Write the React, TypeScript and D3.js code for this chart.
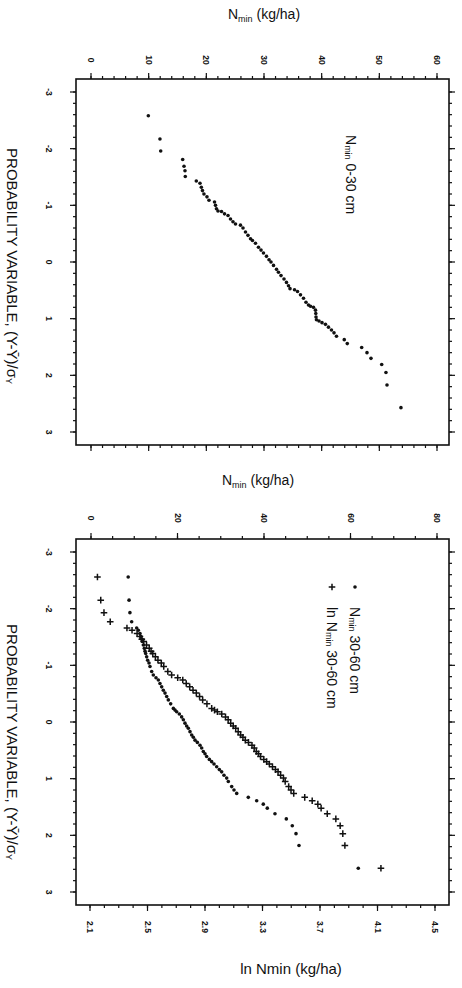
import { useEffect, useRef } from 'react';
import * as d3 from 'd3';

const W = 462;
const H = 988;
const FONT = 'Liberation Sans, Arial, Helvetica, sans-serif';
const INK = '#111';

// tick labels
const probTicks = [-3, -2, -1, 0, 1, 2, 3];
const nTicksShallow = [0, 10, 20, 30, 40, 50, 60];
const nTicksDeep = [0, 20, 40, 60, 80];
const lnTicks = [2.1, 2.5, 2.9, 3.3, 3.7, 4.1, 4.5];

// [Nmin (kg/ha), probability variable], 0-30 cm
const nmin0to30: [number, number][] = [
  [9.94, -2.58], [11.96, -2.17], [12.09, -1.96], [15.9, -1.81], [16.13, -1.69], [16.3, -1.61],
  [16.35, -1.51], [18.26, -1.43], [18.9, -1.39], [19.13, -1.32], [19.33, -1.26], [19.59, -1.2],
  [20.11, -1.15], [20.46, -1.09], [21.42, -1.06], [21.59, -1.0], [21.76, -0.94], [22.02, -0.9],
  [22.63, -0.89], [23.15, -0.85], [23.76, -0.82], [24.19, -0.76], [24.62, -0.71], [25.06, -0.67],
  [25.92, -0.65], [26.36, -0.6], [26.79, -0.53], [27.22, -0.47], [27.66, -0.41], [28.0, -0.38],
  [28.52, -0.33], [29.04, -0.26], [29.48, -0.21], [29.91, -0.16], [30.43, -0.1], [30.87, -0.04],
  [31.21, 0.0], [31.65, 0.06], [32.17, 0.13], [32.51, 0.18], [32.95, 0.24], [33.47, 0.3],
  [33.9, 0.36], [34.25, 0.42], [34.51, 0.47], [35.29, 0.49], [35.81, 0.52], [36.33, 0.58],
  [36.85, 0.64], [37.28, 0.71], [37.71, 0.76], [38.06, 0.78], [38.58, 0.8], [38.93, 0.85],
  [38.98, 0.91], [39.02, 0.97], [39.1, 1.02], [39.54, 1.04], [40.06, 1.07], [40.66, 1.1],
  [41.18, 1.15], [41.7, 1.2], [42.14, 1.25], [42.57, 1.31], [43.92, 1.37], [44.44, 1.44],
  [46.94, 1.51], [47.86, 1.6], [48.55, 1.7], [50.41, 1.81], [51.15, 1.95], [51.33, 2.17],
  [53.75, 2.57],
];

// [Nmin (kg/ha), probability variable], 30-60 cm
const nmin30to60: [number, number][] = [
  [8.6, -2.56], [8.8, -2.15], [9.0, -1.93], [9.4, -1.77], [10.56, -1.66], [10.94, -1.62],
  [11.33, -1.56], [11.56, -1.51], [11.71, -1.46], [11.87, -1.42], [12.1, -1.36], [12.33, -1.3],
  [12.49, -1.25], [12.64, -1.21], [12.87, -1.15], [13.1, -1.09], [13.41, -1.04], [13.64, -0.98],
  [14.03, -0.89], [14.41, -0.83], [15.03, -0.78], [15.57, -0.74], [15.95, -0.68], [16.34, -0.62],
  [16.72, -0.56], [17.11, -0.51], [17.5, -0.45], [17.88, -0.39], [18.42, -0.32], [19.04, -0.24],
  [19.42, -0.21], [19.81, -0.18], [20.42, -0.14], [20.96, -0.09], [21.35, -0.04], [21.73, 0.02],
  [22.12, 0.07], [22.5, 0.11], [22.89, 0.17], [23.28, 0.23], [23.66, 0.27], [24.05, 0.32],
  [24.59, 0.36], [25.2, 0.41], [25.59, 0.46], [25.97, 0.52], [26.36, 0.56], [26.74, 0.61],
  [27.36, 0.66], [27.9, 0.7], [28.44, 0.74], [29.06, 0.79], [29.67, 0.84], [30.21, 0.88],
  [30.75, 0.94], [31.37, 0.99], [31.75, 1.05], [32.53, 1.14], [33.06, 1.2], [33.69, 1.26],
  [36.37, 1.33], [38.31, 1.39], [39.84, 1.45], [40.76, 1.52], [42.54, 1.62], [45.16, 1.71],
  [46.54, 1.83], [47.4, 1.97], [48.09, 2.18], [61.8, 2.58],
];

const PLUS = 'M-3.3,0H3.3M0,-3.3V3.3';

export default function App() {
  const ref = useRef<SVGSVGElement>(null);

  useEffect(() => {
    const svg = d3.select(ref.current);
    svg.selectAll('*').remove();
    svg.append('rect').attr('width', W).attr('height', H).attr('fill', '#fff');

    const tickH = (scale: any, vals: number[], y: number, dir: number, len: number) =>
      svg.append('g').selectAll('line').data(vals).join('line')
        .attr('x1', d => scale(d)).attr('x2', d => scale(d))
        .attr('y1', y).attr('y2', y + dir * len)
        .attr('stroke', INK).attr('stroke-width', 1.2);

    const tickV = (scale: any, vals: number[], x: number, dir: number, len: number) =>
      svg.append('g').selectAll('line').data(vals).join('line')
        .attr('y1', d => scale(d)).attr('y2', d => scale(d))
        .attr('x1', x).attr('x2', x + dir * len)
        .attr('stroke', INK).attr('stroke-width', 1.2);

    // small rotated labels (rotated 90deg, read top-to-bottom)
    const rotLabels = (vals: number[], pos: (d: number) => [number, number], fmt: (d: number) => string) =>
      svg.append('g').selectAll('text').data(vals).join('text')
        .attr('transform', d => { const [x, y] = pos(d); return `translate(${x},${y}) rotate(90)`; })
        .attr('text-anchor', 'middle').attr('dominant-baseline', 'central')
        .attr('font-family', FONT).attr('font-size', 8.5).attr('font-weight', 'bold')
        .attr('fill', INK).text(d => fmt(d));

    const minorProb = d3.range(-3, 3.001, 0.2);

    const frame = (x0: number, y0: number, x1: number, y1: number) =>
      svg.append('rect').attr('x', x0).attr('y', y0).attr('width', x1 - x0).attr('height', y1 - y0)
        .attr('fill', 'none').attr('stroke', INK).attr('stroke-width', 1.6);

    const nTitle = (cx: number, baseY: number) => {
      const t = svg.append('text').attr('x', cx).attr('y', baseY).attr('text-anchor', 'middle')
        .attr('font-family', FONT).attr('font-size', 14).attr('fill', INK);
      t.append('tspan').text('N');
      t.append('tspan').attr('font-size', 9).attr('dy', 3).text('min');
      t.append('tspan').attr('dy', -3).text(' (kg/ha)');
    };

    const probTitle = (x: number, cy: number) => {
      const t = svg.append('text').attr('transform', `translate(${x},${cy}) rotate(90)`)
        .attr('text-anchor', 'middle').attr('dominant-baseline', 'central')
        .attr('font-family', FONT).attr('font-size', 15).attr('fill', INK);
      t.append('tspan').text('PROBABILITY VARIABLE, (Y-\u0232)/\u03c3');
      t.append('tspan').attr('font-size', 9).attr('dy', 4).text('Y');
    };

    // ---------- upper panel: Nmin 0-30 cm ----------
    const p1 = { x0: 76, y0: 79, x1: 449, y1: 445 };
    const xN1 = d3.scaleLinear().domain([0, 60]).range([91, 437]);
    const yP1 = d3.scaleLinear().domain([-3, 3]).range([92, 432]);
    const minorN1 = d3.range(0, 60.001, 2);

    frame(p1.x0, p1.y0, p1.x1, p1.y1);
    tickH(xN1, minorN1, p1.y0, -1, 3);
    tickH(xN1, nTicksShallow, p1.y0, -1, 6);
    tickH(xN1, minorN1, p1.y1, 1, 3);
    tickH(xN1, nTicksShallow, p1.y1, 1, 6);
    tickV(yP1, minorProb, p1.x0, -1, 3);
    tickV(yP1, probTicks, p1.x0, -1, 6);
    tickV(yP1, minorProb, p1.x1, 1, 3);
    tickV(yP1, probTicks, p1.x1, 1, 6);
    rotLabels(nTicksShallow, d => [xN1(d), 60], d => String(d));
    rotLabels(probTicks, d => [49, yP1(d)], d => String(d));

    svg.append('g').selectAll('circle').data(nmin0to30).join('circle')
      .attr('cx', d => xN1(d[0])).attr('cy', d => yP1(d[1])).attr('r', 1.8).attr('fill', INK);

    nTitle(264, 19);
    probTitle(13, 266);

    const leg1 = svg.append('text').attr('transform', 'translate(351,135) rotate(90)')
      .attr('text-anchor', 'start').attr('dominant-baseline', 'central')
      .attr('font-family', FONT).attr('font-size', 14).attr('fill', INK);
    leg1.append('tspan').text('N');
    leg1.append('tspan').attr('font-size', 9).attr('dy', 3).text('min');
    leg1.append('tspan').attr('dy', -3).text(' 0-30 cm');

    // ---------- lower panel: Nmin 30-60 cm ----------
    const p2 = { x0: 76, y0: 539, x1: 449, y1: 905 };
    const xN2 = d3.scaleLinear().domain([0, 80]).range([91, 437]);
    const xLn = d3.scaleLinear().domain([2.1, 4.5]).range([90, 435]);
    const yP2 = d3.scaleLinear().domain([-3, 3]).range([552, 892]);
    const minorN2 = d3.range(0, 80.001, 5);
    const minorLn = d3.range(2.1, 4.5001, 0.1);

    frame(p2.x0, p2.y0, p2.x1, p2.y1);
    tickH(xN2, minorN2, p2.y0, -1, 3);
    tickH(xN2, nTicksDeep, p2.y0, -1, 6);
    tickH(xLn, minorLn, p2.y1, 1, 3);
    tickH(xLn, lnTicks, p2.y1, 1, 6);
    tickV(yP2, minorProb, p2.x0, -1, 3);
    tickV(yP2, probTicks, p2.x0, -1, 6);
    tickV(yP2, minorProb, p2.x1, 1, 3);
    tickV(yP2, probTicks, p2.x1, 1, 6);
    rotLabels(nTicksDeep, d => [xN2(d), 518], d => String(d));
    rotLabels(lnTicks, d => [xLn(d), 927], d => d.toFixed(1));
    rotLabels(probTicks, d => [49, yP2(d)], d => String(d));

    // Nmin on the top (linear) axis
    svg.append('g').selectAll('circle').data(nmin30to60).join('circle')
      .attr('cx', d => xN2(d[0])).attr('cy', d => yP2(d[1])).attr('r', 1.8).attr('fill', INK);
    // ln Nmin on the bottom axis
    svg.append('g').selectAll('path').data(nmin30to60).join('path')
      .attr('transform', d => `translate(${xLn(Math.log(d[0]))},${yP2(d[1])})`)
      .attr('d', PLUS).attr('stroke', INK).attr('stroke-width', 1.5).attr('fill', 'none');

    nTitle(258, 485);
    probTitle(13, 742);

    const lt = svg.append('text').attr('x', 291).attr('y', 974).attr('text-anchor', 'middle')
      .attr('font-family', FONT).attr('font-size', 15).attr('fill', INK);
    lt.text('ln Nmin (kg/ha)');

    // legend
    svg.append('circle').attr('cx', 355).attr('cy', 587).attr('r', 1.8).attr('fill', INK);
    svg.append('path').attr('transform', 'translate(332,587)').attr('d', PLUS)
      .attr('stroke', INK).attr('stroke-width', 1.5);
    const legA = svg.append('text').attr('transform', 'translate(355,607) rotate(90)')
      .attr('dominant-baseline', 'central')
      .attr('font-family', FONT).attr('font-size', 14).attr('fill', INK);
    legA.append('tspan').text('N');
    legA.append('tspan').attr('font-size', 9).attr('dy', 3).text('min');
    legA.append('tspan').attr('dy', -3).text(' 30-60 cm');
    const legB = svg.append('text').attr('transform', 'translate(332,607) rotate(90)')
      .attr('dominant-baseline', 'central')
      .attr('font-family', FONT).attr('font-size', 14).attr('fill', INK);
    legB.append('tspan').text('ln N');
    legB.append('tspan').attr('font-size', 9).attr('dy', 3).text('min');
    legB.append('tspan').attr('dy', -3).text(' 30-60 cm');
  }, []);

  return (
    <svg ref={ref} width={W} height={H}
      style={{ position: 'absolute', left: 0, top: 0, display: 'block' }} />
  );
}
